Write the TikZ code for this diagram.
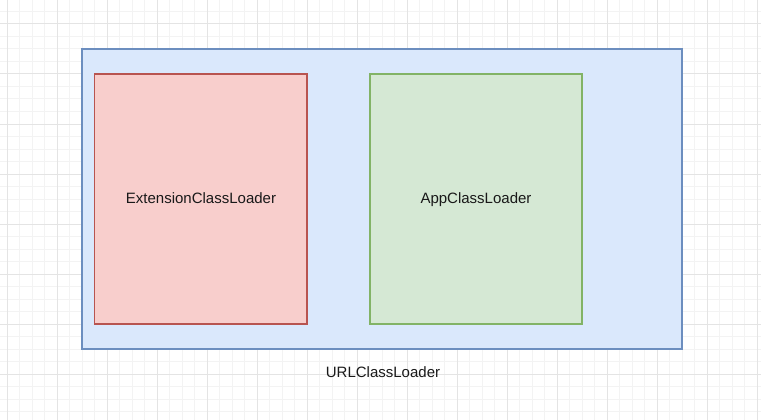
\documentclass[tikz,border=0pt]{standalone}
\usepackage{fontspec}
\setmainfont{Liberation Sans}
\definecolor{gridminor}{HTML}{F3F3F3}
\definecolor{gridmajor}{HTML}{E4E4E4}
\definecolor{bluefill}{HTML}{DAE8FC}
\definecolor{bluedraw}{HTML}{6C8EBF}
\definecolor{redfill}{HTML}{F8CECC}
\definecolor{reddraw}{HTML}{B85450}
\definecolor{greenfill}{HTML}{D5E8D4}
\definecolor{greendraw}{HTML}{82B366}
\begin{document}
\begin{tikzpicture}[x=1pt,y=-1pt,
  box/.style={line width=1.25pt,inner sep=0pt},
  lbl/.style={font=\fontsize{15pt}{18pt}\selectfont,text=black!90,text height=11pt,text depth=3pt}]
\useasboundingbox (0,0) rectangle (761,420);
\fill[white] (0,0) rectangle (761,420);
% minor grid
\foreach \i in {0,...,60} {
  \draw[gridminor,line width=1pt] ({7+12.5*\i},0) -- ({7+12.5*\i},420);
}
\foreach \j in {0,...,33} {
  \draw[gridminor,line width=1pt] (0,{11.5+12.5*\j}) -- (761,{11.5+12.5*\j});
}
% major grid
\foreach \i in {0,...,15} {
  \draw[gridmajor,line width=1pt] ({7+50*\i},0) -- ({7+50*\i},420);
}
\foreach \j in {0,...,8} {
  \draw[gridmajor,line width=1pt] (0,{24+50*\j}) -- (761,{24+50*\j});
}
% boxes
\draw[box,fill=bluefill,draw=bluedraw] (82,49) rectangle (682,349);
\draw[box,fill=redfill,draw=reddraw] (94.5,74) rectangle (307,324);
\draw[box,fill=greenfill,draw=greendraw] (370,74) rectangle (582,324);
\node[lbl] (ext) at (201,199.5) {ExtensionClassLoader};
\node[lbl] (app) at (476,199.5) {AppClassLoader};
\node[lbl] (url) at (383,373.5) {URLClassLoader};
\end{tikzpicture}
\end{document}
